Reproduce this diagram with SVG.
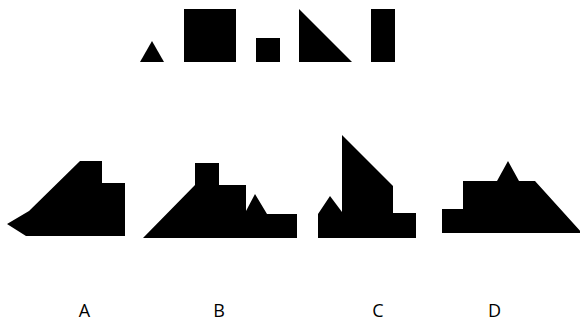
<svg xmlns="http://www.w3.org/2000/svg" width="580" height="324" viewBox="0 0 580 324">
<style>
.s{fill:#000;stroke:none}
.lbl{font-family:"Open Sans","Liberation Sans",sans-serif;font-size:18px;fill:#000;text-anchor:middle}
</style>
<rect width="580" height="324" fill="#fff"/>
<g id="pieces">
<polygon class="s" points="140,62 152,41 164,62"/>
<rect class="s" x="184" y="9" width="52" height="53"/>
<rect class="s" x="256" y="38" width="24" height="24"/>
<polygon class="s" points="299,9 299,62 352,62"/>
<rect class="s" x="371" y="9" width="24" height="53"/>
</g>
<g id="shapeA">
<polygon class="s" points="80,161 102,161 102,183 125,183 125,236 26,236 7,224 29,211"/>
</g>
<g id="shapeB">
<polygon class="s" points="143,238 195,185 195,163 219,163 219,185 246,185 246,211 255,194 267,214 297,214 297,238"/>
</g>
<g id="shapeC">
<polygon class="s" points="318,238 318,214 330,196 342,212 342,135 393,186 393,213 416,213 416,238"/>
</g>
<g id="shapeD">
<polygon class="s" points="442,233 442,209 463,209 463,181 497,181 508,161 519,181 535,181 582,233"/>
</g>
<g id="labels">
<text class="lbl" x="84.5" y="317">A</text>
<text class="lbl" x="219" y="317">B</text>
<text class="lbl" x="378" y="317">C</text>
<text class="lbl" x="494.5" y="317">D</text>
</g>
</svg>
